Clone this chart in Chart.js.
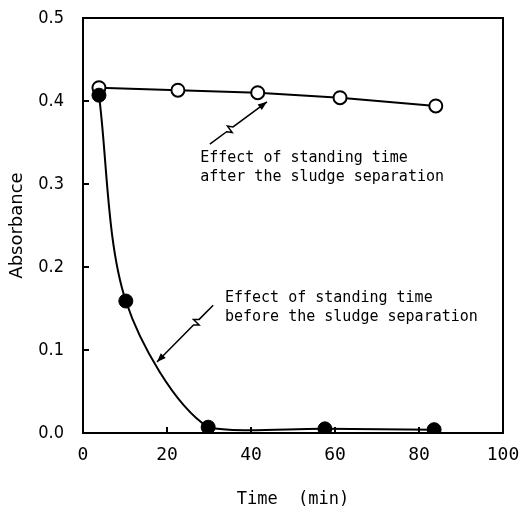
<!DOCTYPE html>
<html>
<head>
<meta charset="utf-8">
<script src="https://cdn.jsdelivr.net/npm/chart.js@4"></script>
<style>
  html, body { margin: 0; padding: 0; background: #fff; }
  #wrap { width: 529px; height: 510px; position: relative; }
</style>
</head>
<body>
<div id="wrap"><canvas id="chartAbs"></canvas></div>
<script>
// values
const timeBefore = [3.8, 10.2, 29.8, 57.6, 83.6];
const absBefore  = [0.407, 0.159, 0.007, 0.005, 0.004];
const timeAfter  = [3.8, 22.6, 41.6, 61.2, 84.0];
const absAfter   = [0.416, 0.413, 0.410, 0.404, 0.394];

const xTickValues = [0, 20, 40, 60, 80, 100];
const yTickValues = [0.0, 0.1, 0.2, 0.3, 0.4, 0.5];

const noteAfter  = ['Effect of standing time', 'after the sludge separation'];
const noteBefore = ['Effect of standing time', 'before the sludge separation'];

const MONO = "'DejaVu Sans Mono', 'Liberation Mono', monospace";

// annotation text + arrows, placed in data units
const notes = [
    { lines: noteAfter,  at: [27.9, 0.331], from: [30.2, 0.348], to: [43.8, 0.399], brk: 0.35 },
    { lines: noteBefore, at: [33.8, 0.163], from: [31.0, 0.154], to: [17.6, 0.0855], brk: 0.3 }
];

const framePlugin = {
    id: 'frame',
    afterDraw(chart) {
        const ctx = chart.ctx;
        const a = chart.chartArea;
        const xs = chart.scales.x, ys = chart.scales.y;
        ctx.save();
        ctx.strokeStyle = '#000';
        ctx.lineWidth = 2;
        ctx.strokeRect(a.left, a.top, a.right - a.left, a.bottom - a.top);

        // inward ticks
        ctx.beginPath();
        yTickValues.slice(1, -1).forEach(v => {
            const y = ys.getPixelForValue(v);
            ctx.moveTo(a.left, y); ctx.lineTo(a.left + 6, y);
        });
        xTickValues.slice(1, -1).forEach(v => {
            const x = xs.getPixelForValue(v);
            ctx.moveTo(x, a.bottom); ctx.lineTo(x, a.bottom - 6);
        });
        ctx.stroke();

        // notes
        ctx.fillStyle = '#000';
        ctx.font = '15px ' + MONO;
        ctx.textAlign = 'left';
        ctx.textBaseline = 'middle';
        ctx.lineWidth = 1.5;
        notes.forEach(n => {
            const tx = xs.getPixelForValue(n.at[0]);
            const ty = ys.getPixelForValue(n.at[1]);
            n.lines.forEach((s, i) => ctx.fillText(s, tx, ty + i * 19));

            const x0 = xs.getPixelForValue(n.from[0]), y0 = ys.getPixelForValue(n.from[1]);
            const x1 = xs.getPixelForValue(n.to[0]),   y1 = ys.getPixelForValue(n.to[1]);
            const len = Math.hypot(x1 - x0, y1 - y0);
            const ux = (x1 - x0) / len, uy = (y1 - y0) / len;
            const nx = -uy, ny = ux;
            const px = x0 + (x1 - x0) * n.brk, py = y0 + (y1 - y0) * n.brk;
            ctx.beginPath();
            ctx.moveTo(x0, y0);
            ctx.lineTo(px - ux * 4, py - uy * 4);
            ctx.lineTo(px + nx * 4, py + ny * 4);
            ctx.lineTo(px - nx * 4, py - ny * 4);
            ctx.lineTo(px + ux * 4, py + uy * 4);
            ctx.lineTo(x1, y1);
            ctx.stroke();
            // arrow head
            ctx.beginPath();
            ctx.moveTo(x1, y1);
            ctx.lineTo(x1 - ux * 9 + nx * 3.5, y1 - uy * 9 + ny * 3.5);
            ctx.lineTo(x1 - ux * 9 - nx * 3.5, y1 - uy * 9 - ny * 3.5);
            ctx.closePath();
            ctx.fill();
        });
        ctx.restore();
    }
};

new Chart(document.getElementById('chartAbs'), {
    type: 'line',
    data: {
        datasets: [{
            label: 'before',
            data: timeBefore.map((t, i) => ({ x: t, y: absBefore[i] })),
            borderColor: '#000',
            borderWidth: 2,
            backgroundColor: '#000',
            pointRadius: 7,
            pointBorderWidth: 1,
            tension: 0.3
        }, {
            label: 'after',
            data: timeAfter.map((t, i) => ({ x: t, y: absAfter[i] })),
            borderColor: '#000',
            borderWidth: 2,
            backgroundColor: '#fff',
            pointRadius: 6.5,
            pointBorderWidth: 2,
            tension: 0
        }]
    },
    options: {
        responsive: true,
        maintainAspectRatio: false,
        animation: false,
        layout: { padding: { left: 0, right: 26, top: 18, bottom: 0 } },
        plugins: { legend: { display: false }, tooltip: { enabled: false } },
        scales: {
            x: {
                type: 'linear',
                min: 0, max: 100,
                afterBuildTicks: s => { s.ticks = xTickValues.map(v => ({ value: v })); },
                afterFit: s => { s.height = 77; s.paddingLeft = 0; s.paddingRight = 0; },
                grid: { display: false, drawTicks: false },
                border: { display: false },
                ticks: {
                    color: '#000', padding: 12, maxRotation: 0,
                    font: { family: MONO, size: 18 }
                },
                title: {
                    display: true, text: 'Time  (min)', color: '#000',
                    font: { family: MONO, size: 17 },
                    padding: { top: 0, bottom: 0 }
                }
            },
            y: {
                min: 0, max: 0.5,
                afterBuildTicks: s => { s.ticks = yTickValues.map(v => ({ value: v })); },
                afterFit: s => { s.width = 83; s.paddingTop = 0; s.paddingBottom = 0; },
                grid: { display: false, drawTicks: false },
                border: { display: false },
                ticks: {
                    color: '#000', padding: 19,
                    callback: v => v.toFixed(1),
                    font: { family: "'Liberation Sans Narrow', 'DejaVu Sans Condensed', 'DejaVu Sans', sans-serif", size: 18 }
                },
                title: {
                    display: true, text: 'Absorbance', color: '#000',
                    font: { family: "'DejaVu Sans', sans-serif", size: 18 },
                    padding: { top: 7, bottom: 0 }
                }
            }
        }
    },
    plugins: [framePlugin]
});
</script>
</body>
</html>
